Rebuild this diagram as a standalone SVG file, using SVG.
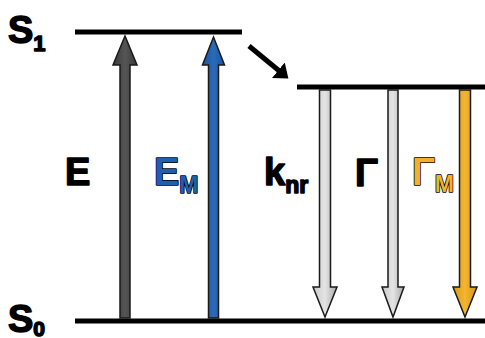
<svg xmlns="http://www.w3.org/2000/svg" width="485" height="338" viewBox="0 0 485 338">
<defs>
<style>
.lvl{stroke:#000;stroke-width:5;fill:none}
.lbl{font-family:"Liberation Sans",Arial,sans-serif;font-weight:bold;paint-order:stroke;stroke:#000;stroke-width:1.5;stroke-linejoin:round}
.arr{stroke:#1a1a1a;stroke-width:1.5;stroke-linejoin:miter}
</style>
<linearGradient id="gGray" x1="0" y1="0" x2="1" y2="0">
<stop offset="0" stop-color="#c8c8c8"/><stop offset="0.5" stop-color="#e4e4e4"/><stop offset="1" stop-color="#a8a8a8"/>
</linearGradient>
<linearGradient id="gDark" x1="0" y1="0" x2="1" y2="0">
<stop offset="0" stop-color="#3a3a3a"/><stop offset="0.5" stop-color="#555"/><stop offset="1" stop-color="#3a3a3a"/>
</linearGradient>
<linearGradient id="gBlue" x1="0" y1="0" x2="1" y2="0">
<stop offset="0" stop-color="#1a56a0"/><stop offset="0.5" stop-color="#2a6ab8"/><stop offset="1" stop-color="#1a56a0"/>
</linearGradient>
<linearGradient id="gOrange" x1="0" y1="0" x2="1" y2="0">
<stop offset="0" stop-color="#dc9a18"/><stop offset="0.5" stop-color="#f2b630"/><stop offset="1" stop-color="#d89414"/>
</linearGradient>
<marker id="head" markerWidth="4" markerHeight="4" refX="1.2" refY="2" orient="auto" markerUnits="strokeWidth">
<path d="M0,0 L2.6,2 L0,4 Z" fill="#000"/>
</marker>
</defs>

<g id="levels">
<line id="S1-line" class="lvl" x1="75" y1="32" x2="242" y2="32"/>
<line id="S1r-line" class="lvl" x1="297" y1="87" x2="485" y2="87"/>
<line id="S0-line" class="lvl" x1="75" y1="321" x2="485" y2="321"/>
</g>

<g id="S1"><text class="lbl" x="8" y="43" font-size="38" fill="#000" stroke="none">S<tspan font-size="22" dy="8">1</tspan></text></g>
<g id="S0"><text class="lbl" x="8" y="332" font-size="38" fill="#000" stroke="none">S<tspan font-size="21" dy="4">0</tspan></text></g>

<g id="connectors">
<polygon id="arrow-E" class="arr" fill="url(#gDark)" points="120,318 120,65 113,65 125,36 137,65 130,65 130,318"/>
<polygon id="arrow-EM" class="arr" fill="url(#gBlue)" points="208.5,318 208.5,65 202.5,65 213.5,37 224.5,65 218.5,65 218.5,318"/>
<polygon id="arrow-knr" class="arr" fill="url(#gGray)" points="319.5,90 319.5,287 313,287 325,317 337,287 330.5,287 330.5,90"/>
<polygon id="arrow-G" class="arr" fill="url(#gGray)" points="388,90 388,287 382,287 393,317 404,287 398,287 398,90"/>
<polygon id="arrow-GM" class="arr" fill="url(#gOrange)" points="459.5,90 459.5,287 453,287 465,317 477,287 470.5,287 470.5,90"/>
<line id="relax" x1="249" y1="46" x2="283" y2="74" stroke="#000" stroke-width="5" marker-end="url(#head)"/>
</g>

<g id="E"><text class="lbl" x="65" y="185" font-size="38" fill="#000">E</text></g>
<g id="EM"><text class="lbl" x="154" y="185" font-size="38" fill="#1f5fad">E<tspan font-size="23" dy="8">M</tspan></text></g>
<g id="knr"><text class="lbl" x="264" y="185" font-size="38" fill="#000">k<tspan font-size="23" dy="8">nr</tspan></text></g>
<g id="G"><text class="lbl" x="355" y="186" font-size="38" fill="#000">Γ</text></g>
<g id="GM"><text class="lbl" x="412" y="185" font-size="38" fill="#f2b12a">Γ<tspan font-size="23" dy="7">M</tspan></text></g>
</svg>
